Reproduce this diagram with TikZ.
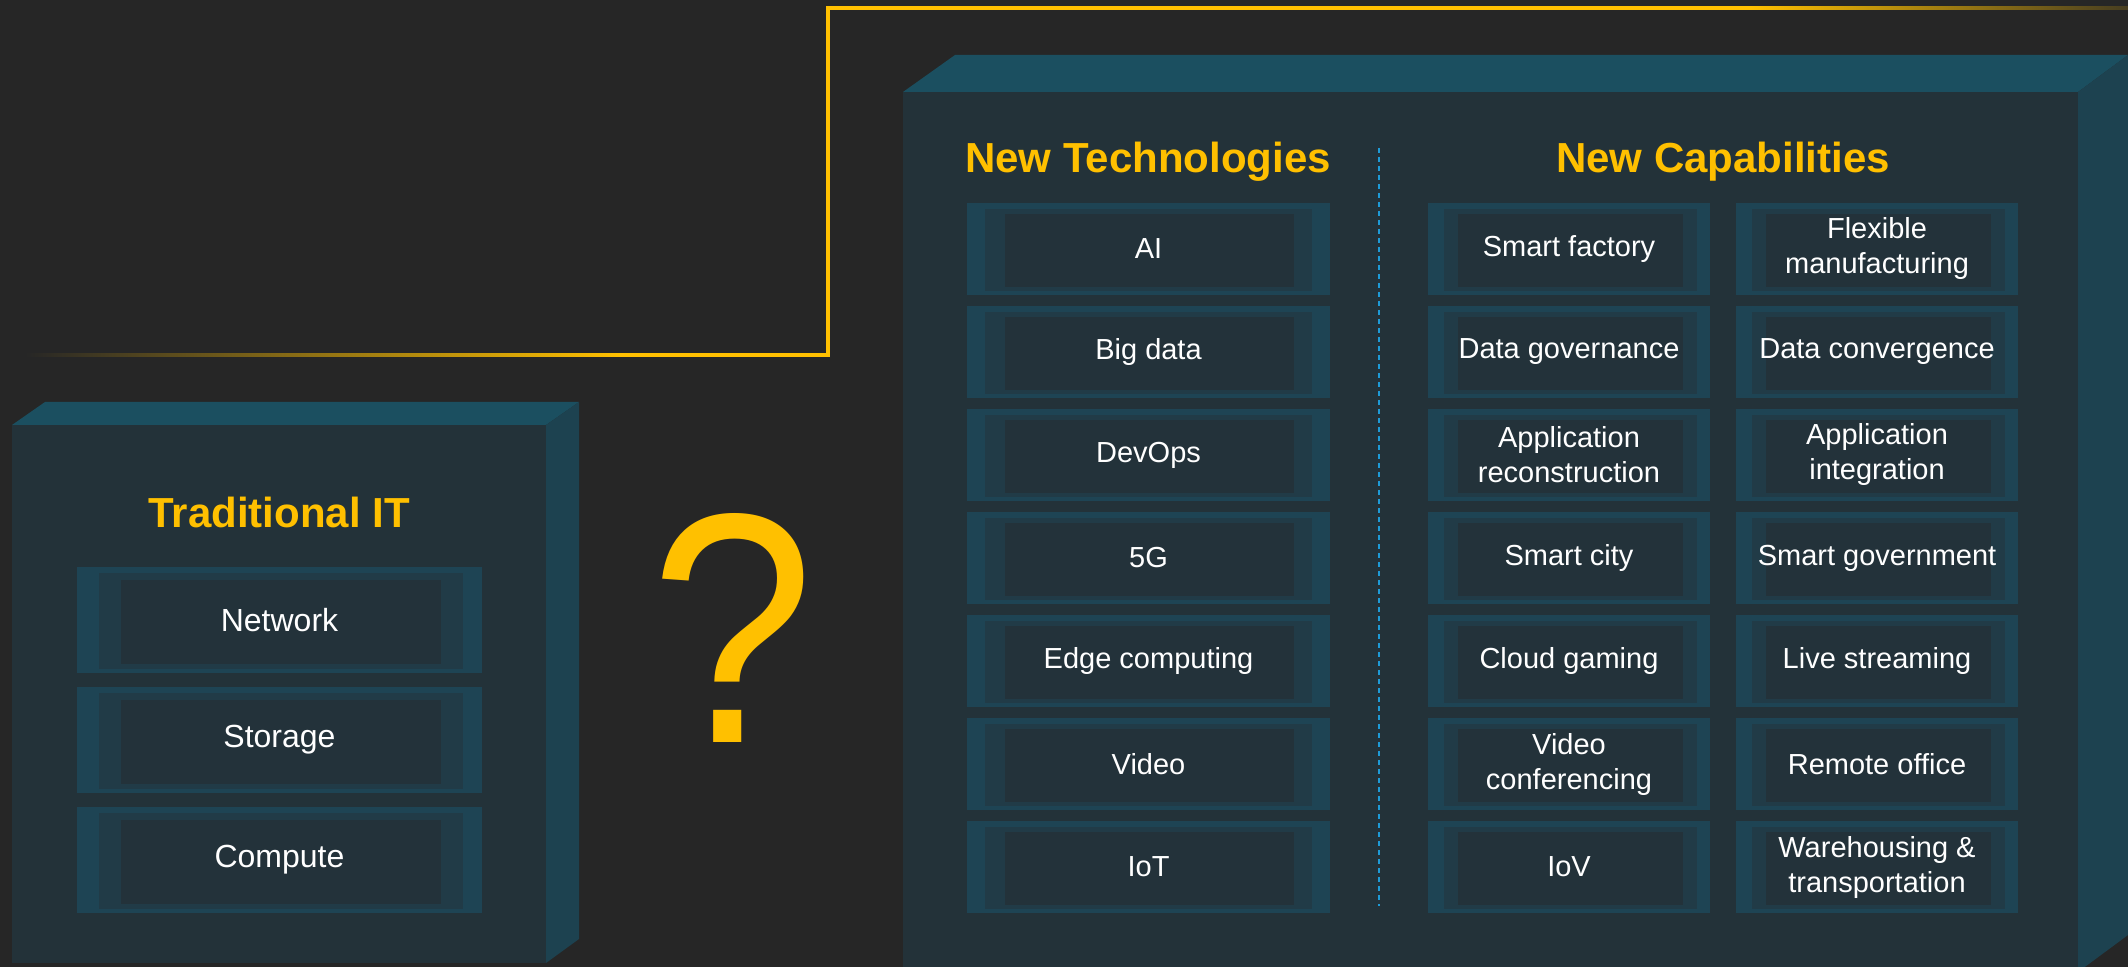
\documentclass[tikz,border=0pt]{standalone}
\usepackage{fontspec}
\setmainfont{Liberation Sans}
\definecolor{bgc}{HTML}{262626}
\definecolor{facec}{HTML}{233239}
\definecolor{topc}{HTML}{1B4F60}
\definecolor{sidec}{HTML}{1D4250}
\definecolor{tileout}{HTML}{1E4454}
\definecolor{tilemid}{HTML}{213B47}
\definecolor{tilein}{HTML}{23323A}
\definecolor{gold}{HTML}{FFC000}
\definecolor{dashc}{HTML}{1E9BD7}
\tikzset{
  tilebase/.style={fill=tileout, inner sep=0pt, align=center, text=white},
  techtile/.style={tilebase, minimum width=181.5pt, minimum height=46pt,
    font=\fontsize{14.5}{17.5}\selectfont,
    path picture={
      \fill[tilemid] ([xshift=9pt,yshift=-3pt]path picture bounding box.north west) rectangle ([xshift=-9pt,yshift=2pt]path picture bounding box.south east);
      \fill[tilein] ([xshift=19pt,yshift=-5.5pt]path picture bounding box.north west) rectangle ([xshift=-18pt,yshift=4pt]path picture bounding box.south east);}},
  captile/.style={tilebase, minimum width=141pt, minimum height=46pt,
    font=\fontsize{14.5}{17.5}\selectfont,
    path picture={
      \fill[tilemid] ([xshift=8pt,yshift=-3pt]path picture bounding box.north west) rectangle ([xshift=-6.5pt,yshift=2pt]path picture bounding box.south east);
      \fill[tilein] ([xshift=15pt,yshift=-5.5pt]path picture bounding box.north west) rectangle ([xshift=-13.5pt,yshift=4pt]path picture bounding box.south east);}},
  tradtile/.style={tilebase, minimum width=202.5pt, minimum height=53pt,
    font=\fontsize{16}{19}\selectfont,
    path picture={
      \fill[tilemid] ([xshift=10.75pt,yshift=-3pt]path picture bounding box.north west) rectangle ([xshift=-9.5pt,yshift=2pt]path picture bounding box.south east);
      \fill[tilein] ([xshift=22pt,yshift=-6.5pt]path picture bounding box.north west) rectangle ([xshift=-20.5pt,yshift=4.5pt]path picture bounding box.south east);}},
  heading/.style={text=gold, font=\fontsize{21}{25}\selectfont\bfseries, anchor=base, inner sep=0pt},
}
\begin{document}
\begin{tikzpicture}[x=0.5pt,y=-0.5pt]
\useasboundingbox (0,0) rectangle (2128,967);
\fill[bgc] (0,0) rectangle (2128,967);

% yellow line
\coordinate (ls) at (25,355);
\coordinate (lm) at (620,355);
\coordinate (c1) at (828,355);
\coordinate (c2) at (828,8);
\coordinate (rm) at (1750,8);
\coordinate (re) at (2128,8);
\shade[left color=bgc, right color=gold] ([yshift=0.9pt]ls) rectangle ([yshift=-0.9pt]lm);
\draw[gold, line width=1.8pt] (lm) -- (c1) -- (c2) -- (rm);
\shade[left color=gold, right color=gold!15!bgc] ([yshift=0.9pt]rm) rectangle ([yshift=-0.9pt]re);

% small box
\fill[topc] (12,425) -- (45,402) -- (579,402) -- (546,425) -- cycle;
\fill[sidec] (546,425) -- (579,402) -- (579,939) -- (546,963) -- cycle;
\fill[facec] (12,425) rectangle (546,963);

% big box
\fill[topc] (903,92) -- (955,55) -- (2128,55) -- (2078,92) -- cycle;
\fill[sidec] (2078,92) -- (2128,55) -- (2128,935) -- (2078,972) -- cycle;
\fill[facec] (903,92) rectangle (2078,967);

% traditional
\node[heading] (tradh) at (279,527) {Traditional IT};
\node[tradtile] (net) at (279.5,620) {Network};
\node[tradtile] (sto) at (279.5,740) {Storage};
\node[tradtile] (com) at (279.5,860) {Compute};

% question mark
\node[text=gold, font=\fontsize{164}{170}\selectfont, anchor=base, inner sep=0pt, xscale=0.9, transform shape] (q) at (733,742) {?};

% headings
\node[heading] (nth) at (1148,173) {New Technologies};
\node[heading] (nch) at (1723,173) {New Capabilities};

% divider
\coordinate (d1) at (1379,148);
\coordinate (d2) at (1379,906);
\draw[dashc, line width=1pt, dash pattern=on 2.5pt off 2pt] (d1) -- (d2);

% tech tiles
\node[techtile] (t1) at (1148.5,249) {AI};
\node[techtile] (t2) at (1148.5,352) {Big data};
\node[techtile] (t3) at (1148.5,455) {DevOps};
\node[techtile] (t4) at (1148.5,558) {5G};
\node[techtile] (t5) at (1148.5,661) {Edge computing};
\node[techtile] (t6) at (1148.5,764) {Video};
\node[techtile] (t7) at (1148.5,867) {IoT};

% capability tiles
\node[captile] (a1) at (1569,249) {Smart factory};
\node[captile] (a2) at (1569,352) {Data governance};
\node[captile] (a3) at (1569,455) {Application\\reconstruction};
\node[captile] (a4) at (1569,558) {Smart city};
\node[captile] (a5) at (1569,661) {Cloud gaming};
\node[captile] (a6) at (1569,764) {Video\\conferencing};
\node[captile] (a7) at (1569,867) {IoV};

\node[captile] (b1) at (1877,249) {Flexible\\manufacturing};
\node[captile] (b2) at (1877,352) {Data convergence};
\node[captile] (b3) at (1877,455) {Application\\integration};
\node[captile] (b4) at (1877,558) {Smart government};
\node[captile] (b5) at (1877,661) {Live streaming};
\node[captile] (b6) at (1877,764) {Remote office};
\node[captile] (b7) at (1877,867) {Warehousing \&\\transportation};
\end{tikzpicture}
\end{document}
